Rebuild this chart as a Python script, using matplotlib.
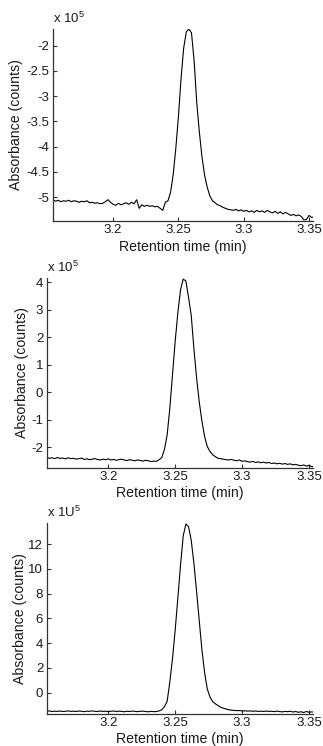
# Three chromatogram panels: absorbance vs retention time
import matplotlib.pyplot as plt
import numpy as np

plt.rcParams['font.family'] = ['Liberation Sans', 'DejaVu Sans']
plt.rcParams['mathtext.fontset'] = 'custom'
plt.rcParams['mathtext.rm'] = 'Liberation Sans'

# sampling grid of the detector (min)
time = np.round(np.arange(3.154, 3.3541, 0.002), 3)

## top panel (x 1e5 counts)
abs1 = [-5.05, -5.08, -5.06, -5.09, -5.07, -5.08, -5.06, -5.09, -5.07, -5.08,
        -5.10, -5.08, -5.09, -5.07, -5.11, -5.10, -5.12, -5.11, -5.13, -5.12,
        -5.09, -5.05, -5.10, -5.14, -5.16, -5.12, -5.15, -5.13, -5.11, -5.14,
        -5.10, -5.13, -5.05, -5.22, -5.15, -5.18, -5.16, -5.18, -5.17, -5.19,
        -5.18, -5.22, -5.26, -5.10, -5.07, -4.90, -4.55, -4.03, -3.40, -2.65,
        -2.05, -1.73, -1.67, -1.75, -2.30, -3.12, -3.71, -4.20, -4.56, -4.80,
        -4.97, -5.07, -5.11, -5.15, -5.17, -5.20, -5.22, -5.24, -5.25, -5.26,
        -5.24, -5.27, -5.25, -5.28, -5.26, -5.29, -5.27, -5.30, -5.26, -5.29,
        -5.27, -5.30, -5.26, -5.29, -5.31, -5.28, -5.32, -5.29, -5.33, -5.30,
        -5.33, -5.36, -5.34, -5.37, -5.35, -5.38, -5.45, -5.44, -5.36, -5.40,
        -5.39]

## middle panel
abs2 = [-2.37, -2.41, -2.39, -2.42, -2.38, -2.41, -2.40, -2.43, -2.39, -2.42,
        -2.41, -2.44, -2.42, -2.40, -2.45, -2.43, -2.46, -2.44, -2.42, -2.45,
        -2.47, -2.44, -2.46, -2.43, -2.47, -2.45, -2.48, -2.46, -2.44, -2.47,
        -2.49, -2.46, -2.48, -2.50, -2.47, -2.49, -2.51, -2.48, -2.50, -2.53,
        -2.51, -2.52, -2.46, -2.38, -2.08, -1.56, -0.58, 0.64, 1.85, 2.90,
        3.73, 4.12, 4.05, 3.45, 2.80, 1.58, 0.52, -0.36, -1.06, -1.62,
        -1.98, -2.16, -2.28, -2.35, -2.41, -2.42, -2.44, -2.46, -2.47, -2.45,
        -2.48, -2.50, -2.47, -2.52, -2.50, -2.53, -2.55, -2.52, -2.56, -2.54,
        -2.57, -2.55, -2.58, -2.56, -2.60, -2.58, -2.61, -2.59, -2.62, -2.60,
        -2.63, -2.61, -2.65, -2.63, -2.66, -2.68, -2.65, -2.69, -2.67, -2.71,
        -2.72]

## bottom panel
abs3 = [-1.50, -1.47, -1.52, -1.49, -1.51, -1.48, -1.52, -1.50, -1.47, -1.51,
        -1.49, -1.52, -1.48, -1.50, -1.53, -1.49, -1.51, -1.47, -1.50, -1.52,
        -1.48, -1.51, -1.49, -1.53, -1.50, -1.48, -1.52, -1.49, -1.51, -1.54,
        -1.50, -1.52, -1.48, -1.51, -1.53, -1.50, -1.49, -1.52, -1.54, -1.51,
        -1.53, -1.52, -1.47, -1.38, -1.12, -0.70, 0.87, 2.76, 5.05, 7.65,
        10.30, 12.65, 13.62, 13.39, 12.30, 10.43, 8.17, 5.80, 3.44, 1.60,
        0.30, -0.35, -0.72, -0.90, -1.03, -1.18, -1.25, -1.32, -1.38, -1.41,
        -1.43, -1.45, -1.44, -1.47, -1.46, -1.49, -1.47, -1.50, -1.48, -1.51,
        -1.49, -1.52, -1.48, -1.51, -1.50, -1.53, -1.49, -1.52, -1.55, -1.51,
        -1.53, -1.50, -1.56, -1.52, -1.58, -1.54, -1.60, -1.52, -1.58, -1.55,
        -1.57]

xticks = [3.2, 3.25, 3.3, 3.35]
yticks1 = [-5, -4.5, -4, -3.5, -3, -2.5, -2]
ylabels1 = ['-5', '-4.5', '-4', '-3.5', '-3', '-2.5', '-2']
yticks2 = [-2, -1, 0, 1, 2, 3, 4]
yticks3 = [0, 2, 4, 6, 8, 10, 12]
scale_text = ['x 10$^5$', 'x 10$^5$', 'x 1U$^5$']

fig = plt.figure(figsize=(3.23, 7.46), dpi=100)
ax1 = fig.add_axes([0.1641, 0.7038, 0.805, 0.2574])
ax2 = fig.add_axes([0.1446, 0.3731, 0.8245, 0.2539])
ax3 = fig.add_axes([0.1446, 0.0429, 0.8245, 0.2556])

txt = '#1a1a1a'
panels = [(ax1, abs1, (-5.47, -1.67), yticks1, ylabels1, -0.142),
          (ax2, abs2, (-2.75, 4.15), yticks2, [str(v) for v in yticks2], -0.094),
          (ax3, abs3, (-1.72, 13.67), yticks3, [str(v) for v in yticks3], -0.10)]

for (ax, vals, ylim, yt, yl, ylx), st in zip(panels, scale_text):
    ax.plot(time, vals, color='black', lw=0.8)
    ax.set_xlim(3.154, 3.353)
    ax.set_ylim(*ylim)
    ax.set_xticks(xticks)
    ax.set_xticklabels(['3.2', '3.25', '3.3', '3.35'])
    ax.set_yticks(yt)
    ax.set_yticklabels(yl)
    for s in ['top', 'right']:
        ax.spines[s].set_visible(False)
    for s in ['left', 'bottom']:
        ax.spines[s].set_color('#333333')
        ax.spines[s].set_linewidth(0.9)
    ax.tick_params(direction='in', length=3, width=0.8, color='#333333',
                   labelsize=9.5, labelcolor=txt, pad=2.5)
    ax.set_ylabel('Absorbance (counts)', fontsize=10.2, color=txt, va='center')
    ax.yaxis.set_label_coords(ylx, 0.5)
    ax.set_xlabel('Retention time (min)', fontsize=10.2, color=txt, va='center')
    ax.xaxis.set_label_coords(0.5, -0.133)
    ax.text(0.0, 1.015, st, transform=ax.transAxes, fontsize=9.5,
            color=txt, va='bottom', ha='left')

plt.savefig('out.png', dpi=100)
